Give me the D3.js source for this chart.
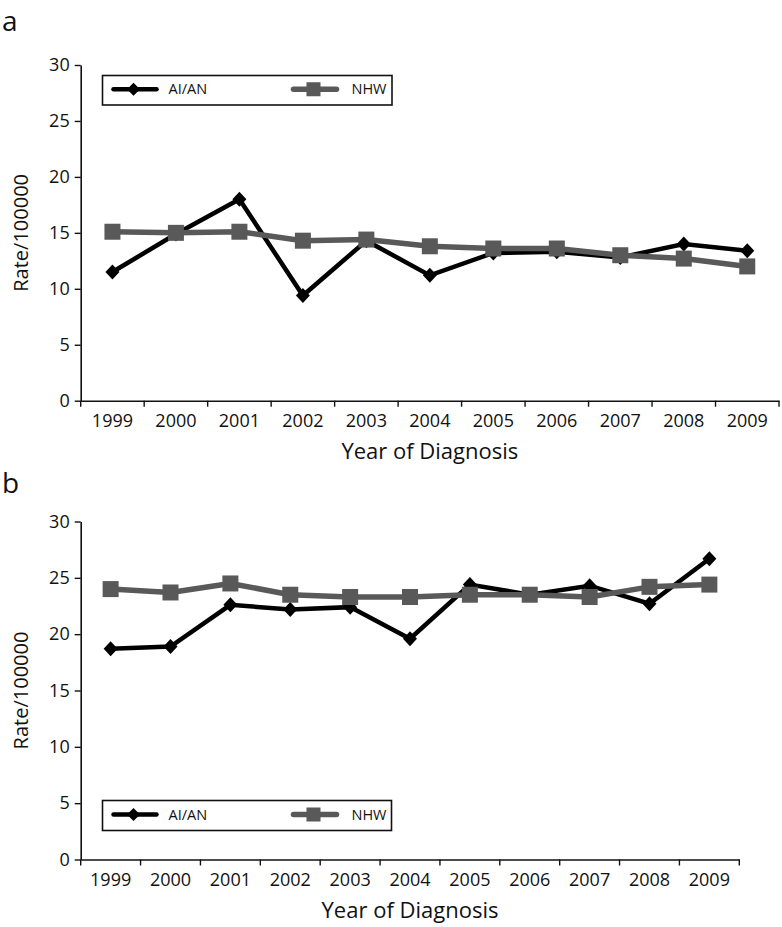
<!DOCTYPE html>
<html>
<head>
<meta charset="utf-8">
<script src="https://cdn.jsdelivr.net/npm/d3@7"></script>
<style>
  html, body { margin: 0; padding: 0; background: #fff; }
  svg { display: block; font-family: "Open Sans", "DejaVu Sans", sans-serif; }
</style>
</head>
<body>
<svg id="chart" width="782" height="927"></svg>
<script>
// ---------- data ----------
const years = ["1999","2000","2001","2002","2003","2004","2005","2006","2007","2008","2009"];
const yTicks = [0, 5, 10, 15, 20, 25, 30];
const seriesNames = ["AI/AN", "NHW"];

const panelA_AIAN = [11.5, 14.9, 18.0, 9.4, 14.3, 11.2, 13.2, 13.3, 12.8, 14.0, 13.4];
const panelA_NHW  = [15.1, 15.0, 15.1, 14.3, 14.4, 13.8, 13.6, 13.6, 13.0, 12.7, 12.0];

const panelB_AIAN = [18.7, 18.9, 22.6, 22.2, 22.4, 19.6, 24.4, 23.5, 24.3, 22.7, 26.7];
const panelB_NHW  = [24.0, 23.7, 24.5, 23.5, 23.3, 23.3, 23.5, 23.5, 23.3, 24.2, 24.4];

const panelLabels = ["a", "b"];
const xTitle = "Year of Diagnosis";
const yTitle = "Rate/100000";

// ---------- styles ----------
const colorAIAN = "#000000";
const colorNHW = "#595959";

const svg = d3.select("#chart");

const panels = [
  { label: panelLabels[0], labelX: 2, labelY: 31,
    left: 80.7, right: 779, top: 65, bottom: 400.7,
    aian: panelA_AIAN, nhw: panelA_NHW,
    legend: { x: 102.5, y: 75.5, w: 289.5, h: 29.5 } },
  { label: panelLabels[1], labelX: 2, labelY: 493,
    left: 80.7, right: 739.3, top: 521.5, bottom: 859.5,
    aian: panelB_AIAN, nhw: panelB_NHW,
    legend: { x: 102.5, y: 800.5, w: 289, h: 30 } }
];

const diamondPath = (hw, hh) => `M0,${-hh}L${hw},0L0,${hh}L${-hw},0Z`;

panels.forEach(p => {
  const g = svg.append("g");

  // panel label
  g.append("text")
    .attr("x", p.labelX).attr("y", p.labelY)
    .attr("font-size", 28).attr("fill", "#111")
    .text(p.label);

  const x = d3.scaleBand().domain(years).range([p.left, p.right]).padding(0);
  const y = d3.scaleLinear().domain([0, 30]).range([p.bottom, p.top]);

  // y axis
  const ya = g.append("g")
    .attr("transform", `translate(${p.left},0)`)
    .call(d3.axisLeft(y).tickValues(yTicks).tickSize(6).tickSizeOuter(0).tickPadding(5));
  ya.select(".domain").attr("stroke", "#111").attr("stroke-width", 1.6);
  ya.selectAll(".tick line").attr("stroke", "#111").attr("stroke-width", 1.4);
  ya.selectAll(".tick text").attr("font-size", 18).attr("fill", "#111")
    .attr("font-family", "\"Open Sans\", sans-serif");

  // x axis (labels centered in bands, ticks at band boundaries)
  const xa = g.append("g")
    .attr("transform", `translate(0,${p.bottom})`)
    .call(d3.axisBottom(x).tickSize(0).tickPadding(14));
  xa.select(".domain").attr("stroke", "#111").attr("stroke-width", 1.6);
  xa.selectAll(".tick text").attr("font-size", 18).attr("fill", "#111")
    .attr("font-family", "\"Open Sans\", sans-serif");
  const bounds = years.map(d => x(d)).concat([x.range()[1]]);
  xa.selectAll("line.bound").data(bounds).join("line")
    .attr("class", "bound")
    .attr("x1", d => d).attr("x2", d => d)
    .attr("y1", 0).attr("y2", 6)
    .attr("stroke", "#111").attr("stroke-width", 1.4);

  // axis titles
  g.append("text")
    .attr("x", (p.left + p.right) / 2).attr("y", p.bottom + 58)
    .attr("text-anchor", "middle").attr("font-size", 22).attr("fill", "#111")
    .text(xTitle);
  g.append("text")
    .attr("transform", `translate(28,${(p.top + p.bottom) / 2}) rotate(-90)`)
    .attr("text-anchor", "middle").attr("font-size", 20).attr("fill", "#111")
    .text(yTitle);

  const line = d3.line()
    .x((d, i) => x(years[i]) + x.bandwidth() / 2)
    .y(d => y(d));

  // AI/AN series
  g.append("path").datum(p.aian)
    .attr("d", line).attr("fill", "none")
    .attr("stroke", colorAIAN).attr("stroke-width", 4.5)
    .attr("stroke-linejoin", "miter");
  g.selectAll("path.dia").data(p.aian).join("path")
    .attr("class", "dia")
    .attr("transform", (d, i) => `translate(${x(years[i]) + x.bandwidth() / 2},${y(d)})`)
    .attr("d", diamondPath(7, 7.5))
    .attr("fill", colorAIAN);

  // NHW series
  g.append("path").datum(p.nhw)
    .attr("d", line).attr("fill", "none")
    .attr("stroke", colorNHW).attr("stroke-width", 5.5)
    .attr("stroke-linejoin", "round");
  g.selectAll("rect.sq").data(p.nhw).join("rect")
    .attr("class", "sq")
    .attr("x", (d, i) => x(years[i]) + x.bandwidth() / 2 - 8)
    .attr("y", d => y(d) - 8)
    .attr("width", 16).attr("height", 16)
    .attr("fill", colorNHW);

  // legend
  const L = p.legend;
  const lg = g.append("g");
  lg.append("rect")
    .attr("x", L.x).attr("y", L.y).attr("width", L.w).attr("height", L.h)
    .attr("fill", "#fff").attr("stroke", "#111").attr("stroke-width", 1.6);
  const cy = L.y + L.h / 2 - 1;
  // AI/AN entry
  lg.append("line")
    .attr("x1", L.x + 11).attr("x2", L.x + 54).attr("y1", cy).attr("y2", cy)
    .attr("stroke", colorAIAN).attr("stroke-width", 4.5).attr("stroke-linecap", "round");
  lg.append("path")
    .attr("transform", `translate(${L.x + 31},${cy})`)
    .attr("d", diamondPath(6.5, 6.5)).attr("fill", colorAIAN);
  lg.append("text")
    .attr("x", L.x + 66).attr("y", cy + 5)
    .attr("font-size", 14.5).attr("fill", "#111")
    .text(seriesNames[0]);
  // NHW entry
  lg.append("line")
    .attr("x1", L.x + 191).attr("x2", L.x + 234).attr("y1", cy).attr("y2", cy)
    .attr("stroke", colorNHW).attr("stroke-width", 5.5).attr("stroke-linecap", "round");
  lg.append("rect")
    .attr("x", L.x + 211 - 7).attr("y", cy - 7).attr("width", 14).attr("height", 14)
    .attr("fill", colorNHW);
  lg.append("text")
    .attr("x", L.x + 249).attr("y", cy + 5)
    .attr("font-size", 14.5).attr("fill", "#111")
    .text(seriesNames[1]);
});
</script>
</body>
</html>
